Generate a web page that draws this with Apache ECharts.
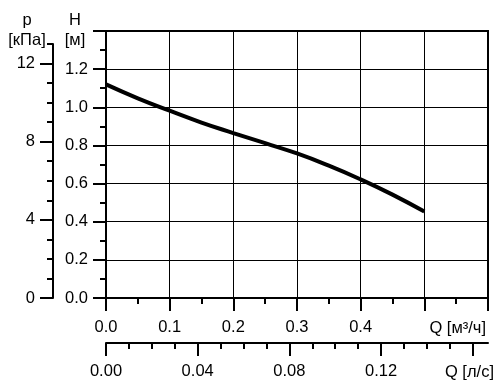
<!DOCTYPE html>
<html>
<head>
<meta charset="utf-8">
<script src="https://cdn.jsdelivr.net/npm/echarts@6/dist/echarts.min.js"></script>
<style>
  html, body { margin: 0; padding: 0; background: #fff; }
  #chart { width: 500px; height: 390px; }
</style>
</head>
<body>
<div id="chart"></div>
<script>
// расход Q [м³/ч] и напор H [м]
var qFlow = [0, 0.05, 0.1, 0.15, 0.2, 0.25, 0.3, 0.35, 0.4, 0.45, 0.5];
var headH = [1.12, 1.047, 0.982, 0.92, 0.865, 0.812, 0.758, 0.694, 0.622, 0.542, 0.453];

// шкала давления p [кПа]
var pMajor = [0, 4, 8, 12];
var pMinor = [1, 2, 3, 5, 6, 7, 9, 10, 11, 13];

// шкала расхода Q [л/с]
var lsMajor = [0, 0.04, 0.08, 0.12, 0.16];
var lsLabels = [0, 0.04, 0.08, 0.12];
var lsMinor = [0.01, 0.02, 0.03, 0.05, 0.06, 0.07, 0.09, 0.1, 0.11, 0.13, 0.14, 0.15];

var FONT = '"Liberation Sans", Arial, sans-serif';
var FS = 16.5;
var black = '#000';

var chart = echarts.init(document.getElementById('chart'));

var labelStyle = { color: black, fontSize: FS, fontFamily: FONT };
var txt = function (s, x, y, align) {
  return { type: 'text', x: x, y: y, style: { text: s, fill: black, font: FS + 'px ' + FONT, align: align || 'center', verticalAlign: 'middle' } };
};

var option = {
  animation: false,
  grid: [
    { left: 106, right: 12, top: 31, bottom: 92, show: true, borderColor: black, borderWidth: 2 },
    { left: 106, right: 12, top: 44, bottom: 92 }
  ],
  xAxis: [
    {
      // Q [м³/ч]
      type: 'value', gridIndex: 0, position: 'bottom', min: 0, max: 0.6, interval: 0.1,
      axisLine: { show: true, onZero: false, lineStyle: { color: black, width: 2 } },
      axisTick: { show: true, length: 13, lineStyle: { color: black, width: 2 } },
      minorTick: { show: true, splitNumber: 2, length: 6, lineStyle: { color: black, width: 2 } },
      axisLabel: Object.assign({ margin: 21, formatter: function (v) { return v < 0.45 ? v.toFixed(1) : ''; } }, labelStyle),
      splitLine: { show: true, lineStyle: { color: black, width: 1 } }
    },
    {
      // Q [л/с], основные деления
      type: 'value', gridIndex: 0, position: 'bottom', offset: 45, min: 0, max: 0.6 / 3.6,
      axisLine: { show: true, onZero: false, lineStyle: { color: black, width: 2 } },
      axisTick: { show: true, length: 13, customValues: lsMajor, lineStyle: { color: black, width: 2 } },
      axisLabel: Object.assign({ margin: 20, customValues: lsLabels, formatter: function (v) { return v.toFixed(2); } }, labelStyle),
      splitLine: { show: false }
    },
    {
      // Q [л/с], мелкие деления
      type: 'value', gridIndex: 0, position: 'bottom', offset: 45, min: 0, max: 0.6 / 3.6,
      axisLine: { show: false, onZero: false },
      axisTick: { show: true, length: 6, customValues: lsMinor, lineStyle: { color: black, width: 2 } },
      axisLabel: { show: false },
      splitLine: { show: false }
    },
    { type: 'value', gridIndex: 1, min: 0, max: 1, show: false }
  ],
  yAxis: [
    {
      // H [м]
      type: 'value', gridIndex: 0, position: 'left', min: 0, max: 1.4, interval: 0.2,
      axisLine: { show: true, onZero: false, lineStyle: { color: black, width: 2 } },
      axisTick: { show: true, length: 13, lineStyle: { color: black, width: 2 } },
      minorTick: { show: true, splitNumber: 2, length: 6, lineStyle: { color: black, width: 2 } },
      axisLabel: Object.assign({ margin: 18, formatter: function (v) { return v < 1.3 ? v.toFixed(1) : ''; } }, labelStyle),
      splitLine: { show: true, lineStyle: { color: black, width: 1 } }
    },
    {
      // p [кПа], основные деления
      type: 'value', gridIndex: 1, position: 'left', offset: 53, min: 0, max: 13,
      axisLine: { show: true, onZero: false, lineStyle: { color: black, width: 2 } },
      axisTick: { show: true, length: 13, customValues: pMajor, lineStyle: { color: black, width: 2 } },
      axisLabel: Object.assign({ margin: 18, customValues: pMajor }, labelStyle),
      splitLine: { show: false }
    },
    {
      // p [кПа], мелкие деления
      type: 'value', gridIndex: 1, position: 'left', offset: 53, min: 0, max: 13,
      axisLine: { show: false, onZero: false },
      axisTick: { show: true, length: 6, customValues: pMinor, lineStyle: { color: black, width: 2 } },
      axisLabel: { show: false },
      splitLine: { show: false }
    }
  ],
  graphic: [
    txt('p', 27, 20),
    txt('[кПа]', 27, 40),
    txt('H', 75, 20),
    txt('[м]', 75, 40),
    txt('Q [м³/ч]', 486, 328, 'right'),
    txt('Q [л/с]', 494, 372, 'right')
  ],
  series: [
    {
      type: 'line',
      xAxisIndex: 0,
      yAxisIndex: 0,
      smooth: true,
      symbol: 'none',
      lineStyle: { color: black, width: 4 },
      data: qFlow.map(function (q, i) { return [q, headH[i]]; })
    }
  ]
};

chart.setOption(option);
</script>
</body>
</html>
